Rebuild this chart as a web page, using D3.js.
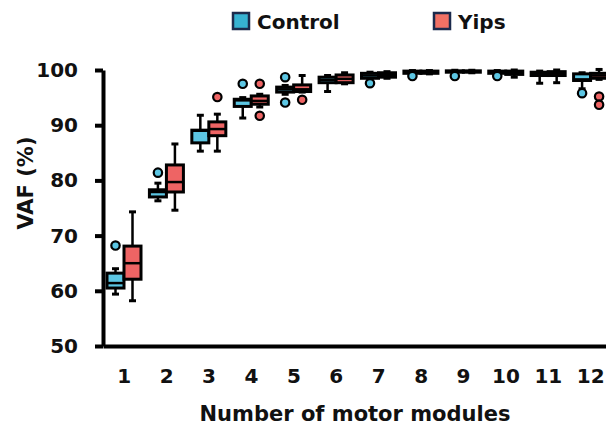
<!DOCTYPE html>
<html>
<head>
<meta charset="utf-8">
<script src="https://cdn.jsdelivr.net/npm/d3@7.9.0/dist/d3.min.js"></script>
<style>
  body { margin: 0; background: #fff; }
  svg { display: block; font-family: "DejaVu Sans", Verdana, sans-serif; font-weight: bold; }
</style>
</head>
<body>
<svg id="chart" width="606" height="428"></svg>
<script>
// number of motor modules
const modules = [1, 2, 3, 4, 5, 6, 7, 8, 9, 10, 11, 12];
const groups = ['Control', 'Yips'];

// [low whisker, q1, median, q3, high whisker] per module
const controlStats = [
  [59.4, 60.5, 61.4, 63.2, 64.0],
  [76.3, 77.0, 77.9, 78.3, 79.5],
  [85.3, 86.8, 89.0, 89.1, 91.8],
  [91.3, 93.4, 94.5, 94.7, 95.0],
  [95.6, 96.0, 96.5, 96.9, 97.2],
  [96.1, 97.7, 98.2, 98.7, 99.0],
  [98.2, 98.5, 99.0, 99.4, 99.6],
  [99.2, 99.4, 99.6, 99.8, 99.9],
  [99.5, 99.6, 99.75, 99.85, 99.95],
  [99.3, 99.4, 99.6, 99.8, 99.9],
  [97.6, 99.0, 99.4, 99.6, 99.8],
  [96.6, 98.1, 98.3, 99.3, 99.5]
];
const yipsStats = [
  [58.2, 62.1, 65.0, 68.1, 74.3],
  [74.6, 77.9, 79.7, 82.8, 86.6],
  [85.3, 88.1, 89.3, 90.6, 92.0],
  [93.3, 93.8, 94.4, 95.3, 95.6],
  [96.0, 96.1, 96.5, 97.3, 99.0],
  [97.5, 97.7, 98.4, 99.1, 99.5],
  [98.5, 98.7, 99.1, 99.5, 99.7],
  [99.3, 99.4, 99.6, 99.8, 99.9],
  [99.5, 99.6, 99.75, 99.85, 99.95],
  [98.7, 99.2, 99.5, 99.8, 100.0],
  [97.7, 99.0, 99.4, 99.7, 100.0],
  [98.3, 98.5, 99.0, 99.4, 100.1]
];
const controlOutliers = [[68.2], [81.4], [], [97.5], [98.7, 94.1], [], [97.6], [98.9], [98.9], [98.9], [], [95.8]];
const yipsOutliers = [[], [], [95.1], [97.5, 91.7], [94.6], [], [], [], [], [], [], [95.2, 93.7]];

const yTicks = [50, 60, 70, 80, 90, 100];

const colors = { Control: '#5cc6e3', Yips: '#ee6464' };
const legendColors = { Control: '#36b2d2', Yips: '#f17165' };

const svg = d3.select('#chart');

const x = d3.scaleBand().domain(modules).range([103, 612]);
const sub = d3.scaleBand().domain(groups).range([4, 38]);
const y = d3.scaleLinear().domain([50, 100]).range([346, 70]);

// y axis
const yAxis = svg.append('g')
  .attr('transform', 'translate(103,0)')
  .call(d3.axisLeft(y).tickValues(yTicks).tickSize(8).tickSizeOuter(0).tickPadding(17));
yAxis.select('.domain').attr('stroke', '#000').attr('stroke-width', 4);
yAxis.selectAll('.tick line').attr('stroke', '#000').attr('stroke-width', 4);
yAxis.selectAll('.tick text')
  .attr('fill', '#111').style('font-size', '20px').style('font-family', '"DejaVu Sans", sans-serif').style('font-weight', 'bold');

// x axis
const xAxis = svg.append('g')
  .attr('transform', 'translate(0,346)')
  .call(d3.axisBottom(x).tickSize(0).tickSizeOuter(0).tickPadding(23));
xAxis.select('.domain').attr('stroke', '#000').attr('stroke-width', 4);
xAxis.selectAll('.tick text')
  .attr('fill', '#111').style('font-size', '20px').style('font-family', '"DejaVu Sans", sans-serif').style('font-weight', 'bold');

// boxes
const rows = [];
modules.forEach((m, i) => {
  rows.push({ m, g: 'Control', s: controlStats[i], out: controlOutliers[i] });
  rows.push({ m, g: 'Yips', s: yipsStats[i], out: yipsOutliers[i] });
});

const bw = sub.bandwidth();
const box = svg.append('g').selectAll('g').data(rows).join('g')
  .attr('transform', d => `translate(${x(d.m) + sub(d.g)},0)`);

// whiskers
box.append('line')
  .attr('x1', bw / 2).attr('x2', bw / 2)
  .attr('y1', d => y(d.s[4])).attr('y2', d => y(d.s[0]))
  .attr('stroke', '#000').attr('stroke-width', 2.5);
box.append('line')
  .attr('x1', bw / 2 - 3.5).attr('x2', bw / 2 + 3.5)
  .attr('y1', d => y(d.s[4])).attr('y2', d => y(d.s[4]))
  .attr('stroke', '#000').attr('stroke-width', 3);
box.append('line')
  .attr('x1', bw / 2 - 3.5).attr('x2', bw / 2 + 3.5)
  .attr('y1', d => y(d.s[0])).attr('y2', d => y(d.s[0]))
  .attr('stroke', '#000').attr('stroke-width', 3);

box.append('rect')
  .attr('x', 0).attr('width', bw)
  .attr('y', d => y(d.s[3]))
  .attr('height', d => Math.max(0, y(d.s[1]) - y(d.s[3])))
  .attr('fill', d => colors[d.g])
  .attr('stroke', '#000').attr('stroke-width', 3);

box.append('line')
  .attr('x1', 0).attr('x2', bw)
  .attr('y1', d => y(d.s[2])).attr('y2', d => y(d.s[2]))
  .attr('stroke', '#000').attr('stroke-width', 2.5);

// outliers
box.selectAll('circle').data(d => d.out.map(v => ({ v, g: d.g }))).join('circle')
  .attr('cx', bw / 2)
  .attr('cy', d => y(d.v))
  .attr('r', 4.2)
  .attr('fill', d => colors[d.g])
  .attr('stroke', '#000').attr('stroke-width', 2.2);

// legend
const legendX = d3.scaleOrdinal().domain(groups).range([233, 434]);
const legend = svg.append('g').selectAll('g').data(groups).join('g')
  .attr('transform', d => `translate(${legendX(d)},13)`);
legend.append('rect')
  .attr('x', 0).attr('y', 0).attr('width', 16).attr('height', 16)
  .attr('fill', d => legendColors[d])
  .attr('stroke', '#1b2a4c').attr('stroke-width', 2.5);
legend.append('text')
  .attr('x', 24).attr('y', 16)
  .attr('fill', '#111')
  .style('font-size', '20px')
  .text(d => d);

// axis titles
svg.append('text')
  .attr('x', 355).attr('y', 421)
  .attr('text-anchor', 'middle')
  .attr('fill', '#111')
  .style('font-size', '21px')
  .text('Number of motor modules');

svg.append('text')
  .attr('transform', 'translate(33,183) rotate(-90)')
  .attr('text-anchor', 'middle')
  .attr('fill', '#111')
  .style('font-size', '21px')
  .text('VAF (%)');
</script>
</body>
</html>
